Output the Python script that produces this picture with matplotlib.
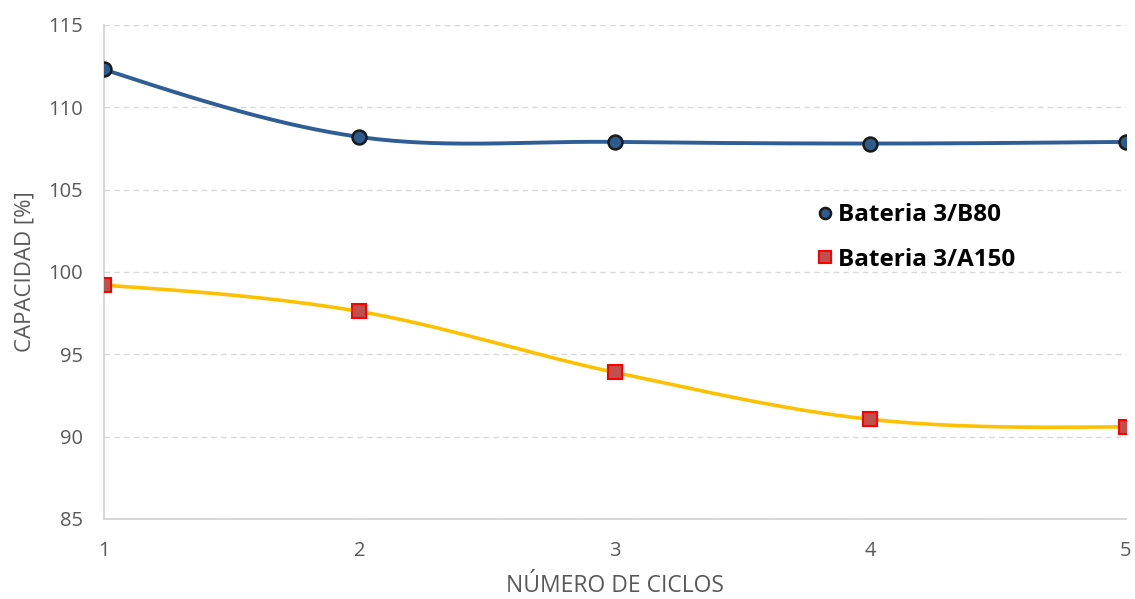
import numpy as np
import matplotlib.pyplot as plt

plt.rcParams['font.family'] = ['Open Sans', 'DejaVu Sans']

ciclos = [1, 2, 3, 4, 5]
b80 = [112.3, 108.2, 107.9, 107.8, 107.9]
a150 = [99.2, 97.6, 93.9, 91.05, 90.6]
labels = ['Bateria 3/B80', 'Bateria 3/A150']


def smooth(xs, ys, n=60):
    # excel style smoothed line: hermite pieces, natural-ish ends
    xs = np.asarray(xs, float)
    ys = np.asarray(ys, float)
    m = len(ys)
    tang = np.zeros(m)
    for i in range(1, m - 1):
        tang[i] = (ys[i + 1] - ys[i - 1]) / 2
    tang[0] = 1.5 * (ys[1] - ys[0]) - 0.5 * tang[1]
    tang[-1] = 1.5 * (ys[-1] - ys[-2]) - 0.5 * tang[-2]
    px, py = [], []
    t = np.linspace(0, 1, n)
    h00 = 2*t**3 - 3*t**2 + 1
    h10 = t**3 - 2*t**2 + t
    h01 = -2*t**3 + 3*t**2
    h11 = t**3 - t**2
    for i in range(m - 1):
        px.extend(xs[i] + t * (xs[i + 1] - xs[i]))
        py.extend(h00*ys[i] + h10*tang[i] + h01*ys[i+1] + h11*tang[i+1])
    return px, py


fig = plt.figure(figsize=(11.35, 5.99), dpi=100)
ax = fig.add_axes([0.0916, 0.1336, 0.9004, 0.8247])

sx, sy = smooth(ciclos, b80)
ax.plot(sx, sy, color='#2F5D95', lw=2.8, zorder=3)
ax.plot(ciclos, b80, 'o', ms=10, mfc='#2E5B8E', mec='#1A1A1A', mew=1.8, zorder=4,
        label=labels[0])

sx, sy = smooth(ciclos, a150)
ax.plot(sx, sy, color='#FFC000', lw=2.6, zorder=3)
ax.plot(ciclos, a150, 's', ms=10, mfc='#C0504D', mec='#FF0000', mew=1.5, zorder=4,
        label=labels[1])

ax.set_xlim(1, 5)
ax.set_ylim(85, 115)
ax.set_xticks(ciclos)
ax.set_yticks(np.arange(85, 116, 5))
ax.grid(axis='y', color='#D9D9D9', ls=(0, (4, 3)), lw=1)
ax.set_axisbelow(True)
for s in ['top', 'right']:
    ax.spines[s].set_visible(False)
for s in ['left', 'bottom']:
    ax.spines[s].set_color('#D0D0D0')
    ax.spines[s].set_linewidth(1.2)
ax.tick_params(length=0, labelsize=14.5, colors='#595959')
ax.tick_params(axis='x', pad=16)
ax.tick_params(axis='y', pad=15)

ax.set_xlabel('NÚMERO DE CICLOS', fontsize=16.5, color='#595959', labelpad=9)
ax.set_ylabel('CAPACIDAD [%]', fontsize=16, color='#595959', labelpad=9)

leg = ax.legend(loc='center left', bbox_to_anchor=(0.672, 0.57), frameon=False,
                prop={'weight': 'bold', 'size': 17.5}, handletextpad=0.05,
                labelspacing=0.85, markerscale=0.8, handlelength=1.0)

fig.savefig('out.png', dpi=100)
